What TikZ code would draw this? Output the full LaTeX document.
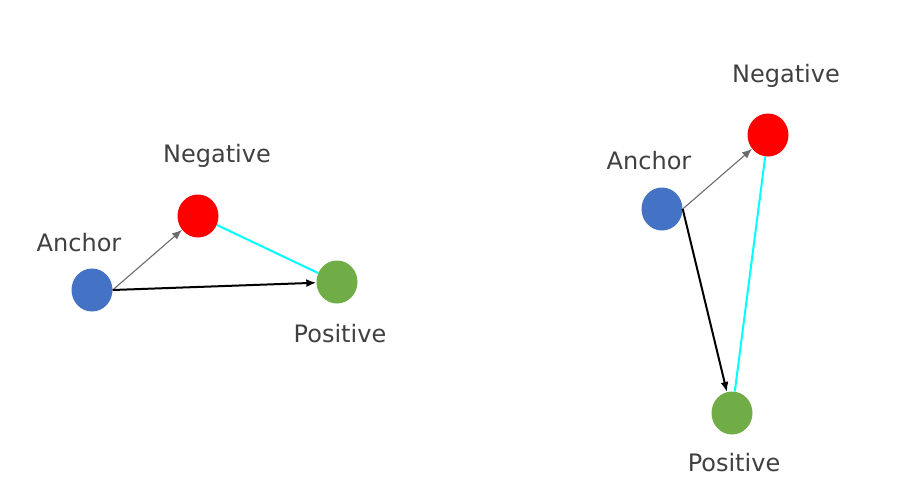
\documentclass[tikz,border=0pt]{standalone}
\usepackage{fontspec}
\setmainfont{DejaVu Sans}
\usepackage{tikz}
\usetikzlibrary{arrows.meta,shapes.geometric}
\definecolor{ancblue}{RGB}{68,114,196}
\definecolor{posgreen}{RGB}{112,173,71}
\definecolor{labgray}{RGB}{64,64,64}
\definecolor{gapcyan}{RGB}{0,255,255}

\begin{document}
\begin{tikzpicture}[x=1pt,y=-1pt,
    dot/.style={ellipse,minimum width=41pt,minimum height=43pt,inner sep=0pt},
    lab/.style={anchor=base,text=labgray,font=\fontsize{24}{28}\selectfont},
    toneg/.style={draw=gray!85!black,line width=1.1pt,-{Latex[length=10pt,width=8pt]}},
    topos/.style={draw=black,line width=2pt,-{Latex[length=10pt,width=8pt]}},
    gap/.style={draw=gapcyan,line width=2pt}]
  \useasboundingbox (0,0) rectangle (912,501);

  % Left triplet
  \node[dot,fill=ancblue] (la) at (92,290) {};
  \node[dot,fill=red] (ln) at (198,216) {};
  \node[dot,fill=posgreen] (lp) at (337,282) {};
  \node[lab] (lal) at (79,251) {Anchor};
  \node[lab] (lnl) at (217,162) {Negative};
  \node[lab] (lpl) at (340,342) {Positive};
  \draw[gap] (ln) -- (lp);
  \draw[toneg] (la.east) -- (ln);
  \draw[topos] (la.east) -- (lp);

  % Right triplet
  \node[dot,fill=ancblue] (ra) at (662,209) {};
  \node[dot,fill=red] (rn) at (768,135) {};
  \node[dot,fill=posgreen] (rp) at (732,413) {};
  \node[lab] (ral) at (649,169) {Anchor};
  \node[lab] (rnl) at (786,82) {Negative};
  \node[lab] (rpl) at (734,471) {Positive};
  \draw[gap] (rn) -- (rp);
  \draw[toneg] (ra.east) -- (rn);
  \draw[topos] (ra.east) -- (rp);
\end{tikzpicture}
\end{document}
